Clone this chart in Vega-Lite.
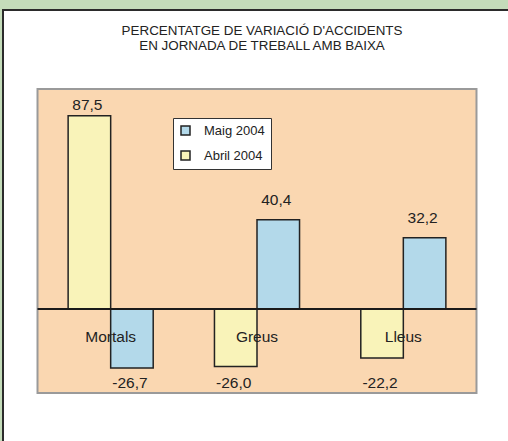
{
  "$schema": "https://vega.github.io/schema/vega-lite/v6.json",
  "width": 508,
  "height": 441,
  "autosize": {"type": "none"},
  "padding": {"left": 3, "top": 10, "right": -3, "bottom": -3},
  "background": "#c4dcba",
  "config": {
    "view": {"fill": "white", "stroke": "#2b2b2b", "strokeWidth": 2},
    "font": "Liberation Sans",
    "locale": {"number": {"decimal": ",", "thousands": ".", "grouping": [3], "currency": ["", " €"], "minus": "-"}}
  },
  "title": {
    "text": ["PERCENTATGE DE VARIACIÓ D'ACCIDENTS", "EN JORNADA DE TREBALL AMB BAIXA"],
    "fontSize": 13.4,
    "fontWeight": "normal",
    "color": "#222",
    "baseline": "top",
    "offset": -42,
    "lineHeight": 14.7,
    "anchor": "middle",
    "frame": "group",
    "dx": 5
  },
  "data": {
    "values": [
      {"cat": "Mortals", "serie": "Abril 2004", "val": 87.5},
      {"cat": "Mortals", "serie": "Maig 2004", "val": -26.7},
      {"cat": "Greus", "serie": "Abril 2004", "val": -26.0},
      {"cat": "Greus", "serie": "Maig 2004", "val": 40.4},
      {"cat": "Lleus", "serie": "Abril 2004", "val": -22.2},
      {"cat": "Lleus", "serie": "Maig 2004", "val": 32.2}
    ]
  },
  "layer": [
    {
      "data": {"values": [{}]},
      "mark": {"type": "rect", "fill": "#fad7b1", "stroke": "#9a9a9a", "strokeWidth": 2},
      "encoding": {
        "x": {"datum": "Mortals", "type": "nominal", "bandPosition": 0,
              "scale": {"domain": ["Mortals", "Greus", "Lleus"], "paddingInner": 0, "paddingOuter": 0.2358},
              "axis": null},
        "x2": {"datum": "Lleus", "bandPosition": 1},
        "y": {"datum": 99.6, "type": "quantitative",
              "scale": {"domain": [-64.3, 135.35], "nice": false, "zero": false}, "axis": null},
        "y2": {"datum": -38}
      }
    },
    {
      "mark": {"type": "bar", "stroke": "#222", "strokeWidth": 1.5},
      "encoding": {
        "x": {"field": "cat", "type": "nominal",
              "scale": {"domain": ["Mortals", "Greus", "Lleus"], "paddingInner": 0, "paddingOuter": 0.2358},
              "axis": null},
        "xOffset": {"field": "serie", "type": "nominal",
                    "scale": {"domain": ["Abril 2004", "Maig 2004"], "paddingInner": 0, "paddingOuter": 0.72}},
        "y": {"field": "val", "type": "quantitative",
              "scale": {"domain": [-64.3, 135.35], "nice": false, "zero": false}, "axis": null},
        "y2": {"datum": 0},
        "fill": {"field": "serie", "type": "nominal",
                 "scale": {"domain": ["Maig 2004", "Abril 2004"], "range": ["#b3d9ea", "#f9f3b9"]},
                 "legend": {
                   "title": null, "orient": "none", "legendX": 170, "legendY": 108,
                   "padding": 6, "fillColor": "white", "strokeColor": "#333",
                   "symbolType": "square", "symbolSize": 81, "symbolStrokeColor": "#222",
                   "symbolStrokeWidth": 1.5, "labelFontSize": 13, "labelColor": "#222",
                   "labelOffset": 12, "rowPadding": 10, "labelFont": "Liberation Sans"
                 }}
      }
    },
    {
      "data": {"values": [{}]},
      "mark": {"type": "rule", "stroke": "#1a1a1a", "strokeWidth": 2},
      "encoding": {
        "x": {"datum": "Mortals", "type": "nominal", "bandPosition": 0},
        "x2": {"datum": "Lleus", "bandPosition": 1},
        "y": {"datum": 0, "type": "quantitative"}
      }
    },
    {
      "transform": [{"filter": "datum.val > 0 && datum.cat == 'Mortals'"}],
      "mark": {"type": "text", "fontSize": 15.5, "color": "#222", "dy": -6, "dx": -2, "baseline": "alphabetic"},
      "encoding": {
        "x": {"field": "cat", "type": "nominal"},
        "xOffset": {"field": "serie", "type": "nominal"},
        "y": {"field": "val", "type": "quantitative"},
        "text": {"field": "val", "type": "quantitative", "format": ".1f"}
      }
    },
    {
      "transform": [{"filter": "datum.val > 0 && datum.cat != 'Mortals'"}],
      "mark": {"type": "text", "fontSize": 15.5, "color": "#222", "dy": -14.5, "dx": -2, "baseline": "alphabetic"},
      "encoding": {
        "x": {"field": "cat", "type": "nominal"},
        "xOffset": {"field": "serie", "type": "nominal"},
        "y": {"field": "val", "type": "quantitative"},
        "text": {"field": "val", "type": "quantitative", "format": ".1f"}
      }
    },
    {
      "transform": [{"filter": "datum.val < 0"}],
      "mark": {"type": "text", "fontSize": 15.5, "color": "#222", "dx": -2, "baseline": "alphabetic"},
      "encoding": {
        "x": {"field": "cat", "type": "nominal"},
        "xOffset": {"field": "serie", "type": "nominal"},
        "y": {"datum": -35.9, "type": "quantitative"},
        "text": {"field": "val", "type": "quantitative", "format": ".1f"}
      }
    },
    {
      "transform": [{"filter": "datum.serie == 'Maig 2004'"}],
      "mark": {"type": "text", "fontSize": 15.5, "color": "#222", "baseline": "alphabetic"},
      "encoding": {
        "x": {"field": "cat", "type": "nominal"},
        "y": {"datum": -15.1, "type": "quantitative"},
        "text": {"field": "cat", "type": "nominal"}
      }
    }
  ]
}
